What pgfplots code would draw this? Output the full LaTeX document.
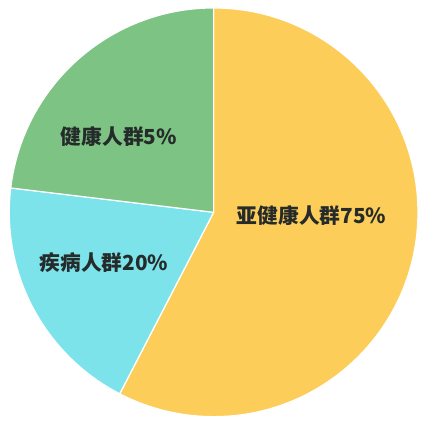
\documentclass[border=0pt]{standalone}
\usepackage{pgfplots}
\usepackage{pgfplotstable}
\usepackage{fontspec}
\pgfplotsset{compat=1.18}
\newfontfamily\cjk{Noto Sans CJK SC}
\definecolor{yel}{HTML}{FDCD5A}
\definecolor{cya}{HTML}{7CE3EA}
\definecolor{grn}{HTML}{7DC383}
\definecolor{txt}{HTML}{252B2A}
\tikzset{lab/.style={text=txt, font=\cjk\bfseries\fontsize{13.8}{16}\selectfont}}

% slice sizes as drawn (share of the full circle, %)
\pgfplotstableread{
name value
yahealth 57.6
ill 19.3
healthy 23.1
}\piedata

\begin{document}
\begin{tikzpicture}
\pgfplotstablegetelem{0}{value}\of\piedata \let\va\pgfplotsretval
\pgfplotstablegetelem{1}{value}\of\piedata \let\vb\pgfplotsretval
\pgfmathsetmacro\aA{90}
\pgfmathsetmacro\aB{90-3.6*\va}
\pgfmathsetmacro\aC{\aB-3.6*\vb}
\pgfmathsetmacro\aD{-270}
\begin{axis}[
    width=10cm, height=10cm, scale only axis,
    hide axis,
    xmin=-1.039, xmax=1.054,
    ymin=-1.054, ymax=1.039,
    clip=false,
  ]
  \path[fill=white, opacity=0] (axis cs:-1.039,-1.054) rectangle (axis cs:1.054,1.039);
  \fill[yel, draw=white, line width=0.8pt] (axis cs:0,0) -- (axis cs:{cos(\aA)},{sin(\aA)})
    arc[start angle=\aA, end angle=\aB, radius=1] -- cycle;
  \fill[cya, draw=white, line width=0.8pt] (axis cs:0,0) -- (axis cs:{cos(\aB)},{sin(\aB)})
    arc[start angle=\aB, end angle=\aC, radius=1] -- cycle;
  \fill[grn, draw=white, line width=0.8pt] (axis cs:0,0) -- (axis cs:{cos(\aC)},{sin(\aC)})
    arc[start angle=\aC, end angle=\aD, radius=1] -- cycle;
  \node[lab] at (axis cs:0.480,-0.015) {亚健康人群75\%};
  \node[lab] at (axis cs:-0.463,0.371) {健康人群5\%};
  \node[lab] at (axis cs:-0.537,-0.244) {疾病人群20\%};
\end{axis}
\end{tikzpicture}
\end{document}
